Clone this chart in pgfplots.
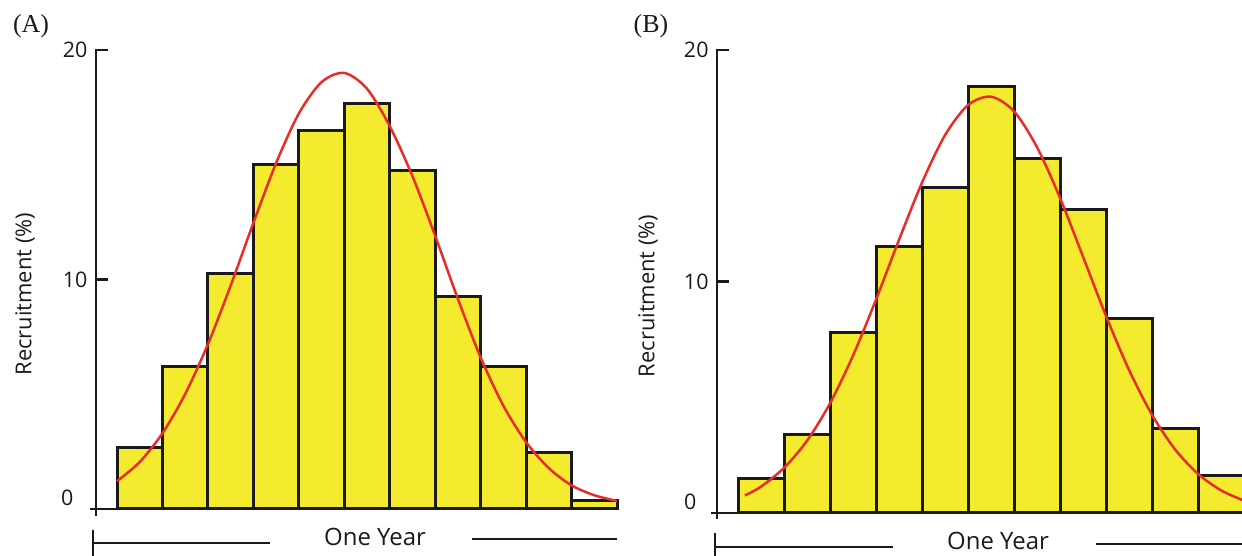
\documentclass[border=0pt]{standalone}
\usepackage{pgfplots}
\pgfplotsset{compat=1.18}
\usepackage{fontspec}
\setmainfont{Open Sans}
\newfontfamily\seriffont{Liberation Serif}
\definecolor{baryellow}{RGB}{244,234,46}
\definecolor{curvered}{RGB}{232,45,40}
\definecolor{edge}{RGB}{26,26,26}

\pgfplotsset{
  panel/.style={
    scale only axis, clip=false,
    ymin=0, ymax=20, xmax=11.5,
    axis x line*=bottom, axis y line*=left,
    x axis line style={draw=none}, y axis line style={draw=none},
    xtick=\empty, ytick={10,20}, extra y ticks={0},
    tick align=inside,
    major tick length=12bp,
    tick style={line width=2.8bp, draw=edge},
    /pgf/number format/assume math mode=true,
    yticklabel style={font=\fontsize{21.5}{25}\selectfont, text=edge, xshift=-5bp},
    ylabel={Recruitment (\%)},
  },
  bars/.style={ybar, bar width=1, bar shift=0pt, fill=baryellow, draw=edge, line width=3bp},
  curve/.style={smooth, curvered, line width=2.5bp, no marks},
}

\begin{document}
\begin{tikzpicture}[x=1bp,y=1bp]
\path[use as bounding box] (0,0) rectangle (1242,556);

% ---------- Panel A ----------
\begin{axis}[panel,
  at={(96bp,47bp)}, anchor=south west,
  width=521bp, height=459bp, xmin=0.038,
  extra y tick style={yticklabel style={xshift=-14bp, yshift=11bp}},
  every axis y label/.style={at={(axis description cs:-0.136,0.468)}, rotate=90, anchor=center,
    font=\fontsize{22}{26}\selectfont, text=edge},
]
\addplot[bars] coordinates {
 (1,2.67) (2,6.23) (3,10.24) (4,15.03) (5,16.47) (6,17.65)
 (7,14.77) (8,9.24) (9,6.19) (10,2.44) (11,0.39)};
\addplot[curve] coordinates {
 (0.5,1.21) (1,2.05) (1.5,3.30) (2,5.01) (2.5,7.18) (3,9.73) (3.5,12.46)
 (4,15.07) (4.5,17.23) (5,18.60) (5.5,19.0) (6,18.31) (6.5,16.68)
 (7,14.5) (7.5,11.9) (8,9.15) (8.5,6.6) (9,4.5) (9.5,2.91) (10,1.78)
 (10.5,1.03) (11,0.6) (11.5,0.35)};
\end{axis}

% ---------- Panel B ----------
\begin{axis}[panel,
  at={(717bp,43bp)}, anchor=south west,
  width=527bp, height=463bp, xmin=0.043,
  extra y tick style={yticklabel style={xshift=-12bp, yshift=11bp}},
  every axis y label/.style={at={(axis description cs:-0.131,0.469)}, rotate=90, anchor=center,
    font=\fontsize{22}{26}\selectfont, text=edge},
]
\addplot[bars] coordinates {
 (1,1.47) (2,3.41) (3,7.78) (4,11.49) (5,14.08) (6,18.41)
 (7,15.33) (8,13.09) (9,8.42) (10,3.67) (11,1.60)};
\addplot[curve] coordinates {
 (0.65,0.76) (1,1.14) (1.5,1.95) (2,3.12) (2.5,4.74) (3,6.80) (3.5,9.22)
 (4,11.80) (4.5,14.27) (5,16.32) (5.5,17.62) (6,17.98) (6.5,17.35)
 (7,15.80) (7.5,13.61) (8,11.07) (8.5,8.51) (9,6.18) (9.5,4.24)
 (10,2.75) (10.5,1.69) (11,0.98) (11.5,0.53)};
\end{axis}

% ---------- axis lines and time brackets ----------
\begin{scope}[draw=edge, line width=2.8bp]
  \draw (96,507) -- (96,40);
  \draw (90,47) -- (618,47);
  \draw (717,507) -- (717,37);
  \draw (711,43) -- (1242,43);
\end{scope}
\begin{scope}[draw=edge, line width=2.3bp]
  \draw (93,26) -- (93,0);
  \draw (93,13) -- (270,13);
  \draw (472,17) -- (617,17);
  \draw (715,23) -- (715,0);
  \draw (715,9) -- (893,9);
  \draw (1096,12) -- (1242,12);
\end{scope}
\node[text=edge, font=\fontsize{24}{28}\selectfont] at (375,19) {One Year};
\node[text=edge, font=\fontsize{24}{28}\selectfont] at (998,15) {One Year};
\node[text=edge, font=\seriffont\fontsize{26}{30}\selectfont] at (31,530) {(A)};
\node[text=edge, font=\seriffont\fontsize{26}{30}\selectfont] at (651,530) {(B)};
\end{tikzpicture}
\end{document}
